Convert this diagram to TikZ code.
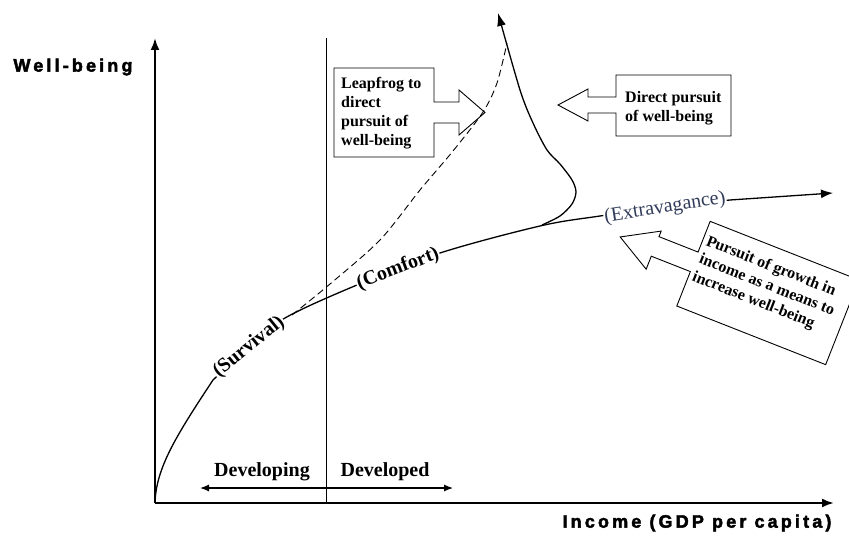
\documentclass[tikz,border=0pt]{standalone}
\usepackage{fontspec}
\setmainfont{Liberation Serif}
\newfontfamily\axisfont[LetterSpace=17.5,FakeBold=2.5]{Liberation Sans Bold}
\usetikzlibrary{arrows.meta,calc}
\definecolor{extcol}{RGB}{50,60,90}
\tikzstyle{every path}+=[line join=miter]
\tikzstyle{axis}=[line width=2.2pt,-{Latex[length=12pt,width=9pt]}]
\tikzstyle{curve}=[line width=1.3pt]
\tikzstyle{callout}=[draw,line width=0.9pt]
\tikzstyle{boxtext}=[font=\bfseries\fontsize{16}{19}\selectfont,align=left,inner sep=0pt,anchor=north west]
\tikzstyle{stage}=[font=\bfseries\fontsize{20}{24}\selectfont,fill=white,inner sep=1pt]
\tikzstyle{region}=[font=\bfseries\fontsize{20}{24}\selectfont,anchor=base]
\tikzstyle{axislabel}=[font=\axisfont\fontsize{18}{22}\selectfont]

\begin{document}
\begin{tikzpicture}[x=1pt,y=-1pt]
\useasboundingbox (0,0) rectangle (849,537);

% axes
\coordinate (O) at (155,503);
\coordinate (ytop) at (155,38);
\coordinate (xend) at (834,503);
\draw[axis] (O) -- (ytop);
\draw[axis] (O) -- (xend);
\node[axislabel] (wb) at (73,67) {Well-being};
\node[axislabel] (inc) at (697,523) {Income (GDP per capita)};

% developing / developed
\coordinate (dtop) at (326,38);
\coordinate (dbot) at (326,503);
\draw[line width=0.8pt] (dtop) -- (dbot);
\coordinate (dl) at (200,488);
\coordinate (dr) at (453,488);
\draw[line width=1.2pt,{Latex[length=9pt,width=7pt]}-{Latex[length=9pt,width=7pt]}] (dl) -- (dr);
\node[region] (dev1) at (262,476) {Developing};
\node[region] (dev2) at (385,476) {Developed};

% growth path
\draw[curve,-{Latex[length=12pt,width=9pt]}] (155,503) .. controls (156,468) and (176,436) .. (213,380)
  plot[smooth,tension=0.55] coordinates {(213,380) (249,347) (285,318) (357,285) (440,253) (540,226) (600,216) (665,207) (730,200)} -- (833,193);

% leapfrog path
\draw[line width=0.9pt,dash pattern=on 7pt off 4pt] plot[smooth] coordinates {(292,315) (330,284) (380,240) (420,190) (453,151) (483,112) (497,83) (507,43)};

% direct pursuit path
\draw[curve,-{Latex[length=13pt,width=9pt]}] plot[smooth] coordinates {(542,225) (560,216) (572,204) (576,192) (572,180) (560,164) (547,150) (533,123) (520,90) (498,13)};

\node[stage,rotate=39] (surv) at (249,347) {(Survival)};
\node[stage,rotate=21] (comf) at (398,269) {(Comfort)};
\node[stage,font=\fontsize{20}{24}\selectfont,text=extcol,rotate=9] (extr) at (665,208) {(Extravagance)};

% callouts
\draw[callout] (334,68) -- (434,68) -- (434,102) -- (459,102) -- (459,90) -- (485,112.5) -- (459,135) -- (459,123) -- (434,123) -- (434,157) -- (334,157) -- cycle;
\node[boxtext] (leap) at (341,77) {Leapfrog to\\direct\\pursuit of\\well-being};

\draw[callout] (616,75) -- (731,75) -- (731,136) -- (616,136) -- (616,113) -- (588,113) -- (588,121) -- (558,105) -- (588,89) -- (588,97) -- (616,97) -- cycle;
\node[boxtext] (direct) at (625,91) {Direct pursuit\\of well-being};

\begin{scope}[shift={(764,292)},rotate=-21.5]
\draw[callout] (-76,-46) -- (84,-46) -- (84,45) -- (-76,45) -- (-76,8) -- (-118,8) -- (-118,22) -- (-154,1.5) -- (-118,-19) -- (-118,-13) -- (-76,-13) -- cycle;
\node[boxtext,transform shape,anchor=west] (growth) at (-72,-7) {Pursuit of growth in\\income as a means to\\increase well-being};
\end{scope}
\end{tikzpicture}
\end{document}
